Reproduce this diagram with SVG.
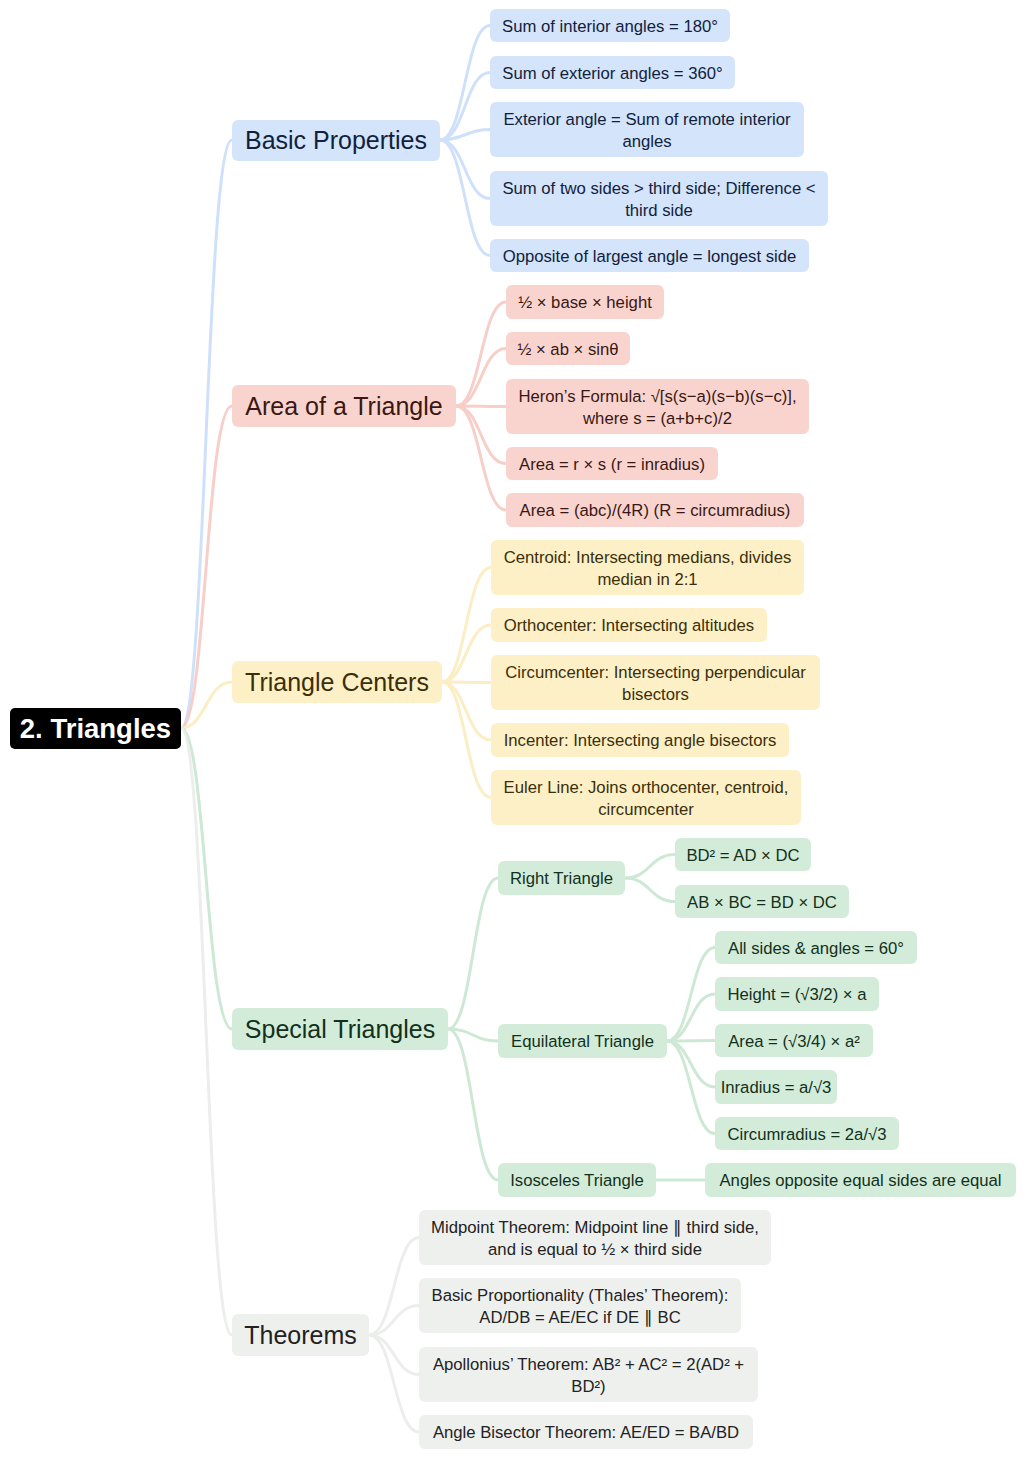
<svg xmlns="http://www.w3.org/2000/svg" width="1024" height="1458" viewBox="0 0 1024 1458">
<style>
text{font-family:"Liberation Sans",Arial,sans-serif;text-anchor:middle}
.l1{font-size:25px}
.l2{font-size:16.7px}
.c{fill:none;stroke-width:3;stroke-linecap:round}
.cb{stroke:#cfe1fa}.cp{stroke:#f7cec8}.cy{stroke:#fbedc4}.cg{stroke:#cde9d5}.cx{stroke:#eceeec}
.b rect{fill:#d3e4fb}.b text{fill:#12213b}
.p rect{fill:#f9d4cf}.p text{fill:#3a1712}
.y rect{fill:#fdf0c6}.y text{fill:#3a2f0a}
.g rect{fill:#d3ecda}.g text{fill:#12301b}
.x rect{fill:#eef0ee}.x text{fill:#222}
</style>
<g id="connectors">
<path class="c cb" d="M181,728 C206,728 206,140 232,140"/>
<path class="c cp" d="M181,728 C206,728 206,406 232,406"/>
<path class="c cy" d="M181,728 C206,728 206,682 232,682"/>
<path class="c cg" d="M181,728 C206,728 206,1029 232,1029"/>
<path class="c cx" d="M181,728 C206,728 206,1335 232,1335"/>
<path class="c cb" d="M440,140 C465,140 465,25.5 490,25.5"/>
<path class="c cb" d="M440,140 C465,140 465,72.5 490,72.5"/>
<path class="c cb" d="M440,140 C465,140 465,129.5 490,129.5"/>
<path class="c cb" d="M440,140 C465,140 465,198.5 490,198.5"/>
<path class="c cb" d="M440,140 C465,140 465,255.5 490,255.5"/>
<path class="c cp" d="M456,406 C481,406 481,302 506,302"/>
<path class="c cp" d="M456,406 C481,406 481,348.5 506,348.5"/>
<path class="c cp" d="M456,406 C481,406 481,406.5 506,406.5"/>
<path class="c cp" d="M456,406 C481,406 481,463.5 506,463.5"/>
<path class="c cp" d="M456,406 C481,406 481,510 506,510"/>
<path class="c cy" d="M442,682 C466,682 466,567.5 491,567.5"/>
<path class="c cy" d="M442,682 C466,682 466,625 491,625"/>
<path class="c cy" d="M442,682 C466,682 466,682.5 491,682.5"/>
<path class="c cy" d="M442,682 C466,682 466,740 491,740"/>
<path class="c cy" d="M442,682 C466,682 466,797.5 491,797.5"/>
<path class="c cg" d="M448,1029 C473,1029 473,878 498,878"/>
<path class="c cg" d="M448,1029 C473,1029 473,1041 498,1041"/>
<path class="c cg" d="M448,1029 C473,1029 473,1180 498,1180"/>
<path class="c cg" d="M625,878 C650,878 650,854.5 675,854.5"/>
<path class="c cg" d="M625,878 C650,878 650,901.5 675,901.5"/>
<path class="c cg" d="M667,1041 C691,1041 691,947.5 715,947.5"/>
<path class="c cg" d="M667,1041 C691,1041 691,994 715,994"/>
<path class="c cg" d="M667,1041 C691,1041 691,1040.5 715,1040.5"/>
<path class="c cg" d="M667,1041 C691,1041 691,1087 715,1087"/>
<path class="c cg" d="M667,1041 C691,1041 691,1133.5 715,1133.5"/>
<path class="c cg" d="M656,1180 L705,1180"/>
<path class="c cx" d="M369,1335 C394,1335 394,1237.5 419,1237.5"/>
<path class="c cx" d="M369,1335 C394,1335 394,1305.5 419,1305.5"/>
<path class="c cx" d="M369,1335 C394,1335 394,1374.5 419,1374.5"/>
<path class="c cx" d="M369,1335 C394,1335 394,1432 419,1432"/>
</g>
<g id="root"><rect x="10" y="708" width="171" height="41" rx="5" fill="#000"/><text x="95.5" y="738" font-size="27.5" font-weight="bold" fill="#fff">2. Triangles</text></g>

<g id="basic" class="b"><rect x="232" y="120" width="208" height="41" rx="6"/><text class="l1" x="336" y="148.5">Basic Properties</text></g>
<g id="b1" class="b"><rect x="490" y="9" width="240" height="33" rx="6"/><text class="l2" x="610" y="31.5">Sum of interior angles = 180°</text></g>
<g id="b2" class="b"><rect x="490" y="56" width="245" height="33" rx="6"/><text class="l2" x="612.5" y="78.5">Sum of exterior angles = 360°</text></g>
<g id="b3" class="b"><rect x="490" y="102" width="314" height="55" rx="6"/><text class="l2" x="647" y="125">Exterior angle = Sum of remote interior</text><text class="l2" x="647" y="147">angles</text></g>
<g id="b4" class="b"><rect x="490" y="171" width="338" height="55" rx="6"/><text class="l2" x="659" y="194">Sum of two sides &gt; third side; Difference &lt;</text><text class="l2" x="659" y="216">third side</text></g>
<g id="b5" class="b"><rect x="490" y="239" width="319" height="33" rx="6"/><text class="l2" x="649.5" y="261.5">Opposite of largest angle = longest side</text></g>

<g id="area" class="p"><rect x="232" y="385" width="224" height="42" rx="6"/><text class="l1" x="344" y="414.5">Area of a Triangle</text></g>
<g id="a1" class="p"><rect x="506" y="285" width="158" height="34" rx="6"/><text class="l2" x="585" y="308">½ × base × height</text></g>
<g id="a2" class="p"><rect x="506" y="332" width="124" height="33" rx="6"/><text class="l2" x="568" y="354.5">½ × ab × sinθ</text></g>
<g id="a3" class="p"><rect x="506" y="379" width="303" height="55" rx="6"/><text class="l2" x="657.5" y="402">Heron’s Formula: √[s(s−a)(s−b)(s−c)],</text><text class="l2" x="657.5" y="424">where s = (a+b+c)/2</text></g>
<g id="a4" class="p"><rect x="506" y="447" width="212" height="33" rx="6"/><text class="l2" x="612" y="469.5">Area = r × s (r = inradius)</text></g>
<g id="a5" class="p"><rect x="506" y="493" width="298" height="34" rx="6"/><text class="l2" x="655" y="516">Area = (abc)/(4R) (R = circumradius)</text></g>

<g id="centers" class="y"><rect x="232" y="661" width="210" height="42" rx="6"/><text class="l1" x="337" y="690.5">Triangle Centers</text></g>
<g id="c1" class="y"><rect x="491" y="540" width="313" height="55" rx="6"/><text class="l2" x="647.5" y="563">Centroid: Intersecting medians, divides</text><text class="l2" x="647.5" y="585">median in 2:1</text></g>
<g id="c2" class="y"><rect x="491" y="608" width="276" height="34" rx="6"/><text class="l2" x="629" y="631">Orthocenter: Intersecting altitudes</text></g>
<g id="c3" class="y"><rect x="491" y="655" width="329" height="55" rx="6"/><text class="l2" x="655.5" y="678">Circumcenter: Intersecting perpendicular</text><text class="l2" x="655.5" y="700">bisectors</text></g>
<g id="c4" class="y"><rect x="491" y="723" width="298" height="34" rx="6"/><text class="l2" x="640" y="746">Incenter: Intersecting angle bisectors</text></g>
<g id="c5" class="y"><rect x="491" y="770" width="310" height="55" rx="6"/><text class="l2" x="646" y="793">Euler Line: Joins orthocenter, centroid,</text><text class="l2" x="646" y="815">circumcenter</text></g>

<g id="special" class="g"><rect x="232" y="1008" width="216" height="42" rx="6"/><text class="l1" x="340" y="1037.5">Special Triangles</text></g>
<g id="s1" class="g"><rect x="498" y="861" width="127" height="34" rx="6"/><text class="l2" x="561.5" y="884">Right Triangle</text></g>
<g id="s1a" class="g"><rect x="675" y="838" width="136" height="33" rx="6"/><text class="l2" x="743" y="860.5">BD² = AD × DC</text></g>
<g id="s1b" class="g"><rect x="675" y="885" width="174" height="33" rx="6"/><text class="l2" x="762" y="907.5">AB × BC = BD × DC</text></g>
<g id="s2" class="g"><rect x="498" y="1024" width="169" height="34" rx="6"/><text class="l2" x="582.5" y="1047">Equilateral Triangle</text></g>
<g id="s2a" class="g"><rect x="715" y="931" width="202" height="33" rx="6"/><text class="l2" x="816" y="953.5">All sides &amp; angles = 60°</text></g>
<g id="s2b" class="g"><rect x="715" y="977" width="164" height="34" rx="6"/><text class="l2" x="797" y="1000">Height = (√3/2) × a</text></g>
<g id="s2c" class="g"><rect x="715" y="1024" width="158" height="33" rx="6"/><text class="l2" x="794" y="1046.5">Area = (√3/4) × a²</text></g>
<g id="s2d" class="g"><rect x="715" y="1070" width="122" height="34" rx="6"/><text class="l2" x="776" y="1093">Inradius = a/√3</text></g>
<g id="s2e" class="g"><rect x="715" y="1117" width="184" height="33" rx="6"/><text class="l2" x="807" y="1139.5">Circumradius = 2a/√3</text></g>
<g id="s3" class="g"><rect x="498" y="1163" width="158" height="34" rx="6"/><text class="l2" x="577" y="1186">Isosceles Triangle</text></g>
<g id="s3a" class="g"><rect x="705" y="1163" width="311" height="34" rx="6"/><text class="l2" x="860.5" y="1186">Angles opposite equal sides are equal</text></g>

<g id="theorems" class="x"><rect x="232" y="1314" width="137" height="42" rx="6"/><text class="l1" x="300.5" y="1343.5">Theorems</text></g>
<g id="t1" class="x"><rect x="419" y="1210" width="352" height="55" rx="6"/><text class="l2" x="595" y="1233">Midpoint Theorem: Midpoint line ∥ third side,</text><text class="l2" x="595" y="1255">and is equal to ½ × third side</text></g>
<g id="t2" class="x"><rect x="419" y="1278" width="322" height="55" rx="6"/><text class="l2" x="580" y="1301">Basic Proportionality (Thales’ Theorem):</text><text class="l2" x="580" y="1323">AD/DB = AE/EC if DE ∥ BC</text></g>
<g id="t3" class="x"><rect x="419" y="1347" width="339" height="55" rx="6"/><text class="l2" x="588.5" y="1370">Apollonius’ Theorem: AB² + AC² = 2(AD² +</text><text class="l2" x="588.5" y="1392">BD²)</text></g>
<g id="t4" class="x"><rect x="419" y="1415" width="334" height="34" rx="6"/><text class="l2" x="586" y="1438">Angle Bisector Theorem: AE/ED = BA/BD</text></g>
</svg>
